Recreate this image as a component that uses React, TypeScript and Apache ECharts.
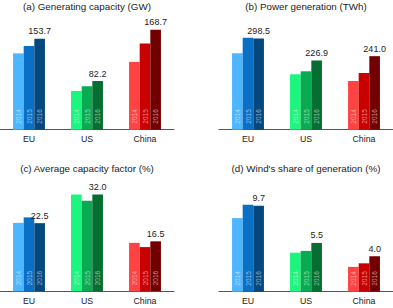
import React, { useEffect, useRef } from "react";
import * as echarts from "echarts";

const regions = ["EU", "US", "China"];
const years = ["2014", "2015", "2016"];
const titles = [
  "(a) Generating capacity (GW)",
  "(b) Power generation (TWh)",
  "(c) Average capacity factor (%)",
  "(d) Wind's share of generation (%)",
];
// values[region][year]
const capacity = [
  [129.0, 141.5, 153.7],
  [65.5, 73.4, 82.2],
  [114.5, 145.8, 168.7],
];
const generation = [
  [250.5, 301.0, 298.5],
  [181.6, 191.4, 226.9],
  [159.6, 185.8, 241.0],
];
const capFactor = [
  [22.6, 24.4, 22.5],
  [32.0, 29.9, 32.0],
  [16.0, 14.6, 16.5],
];
const windShare = [
  [8.3, 9.8, 9.7],
  [4.4, 4.6, 5.5],
  [2.8, 3.2, 4.0],
];
const panels = [capacity, generation, capFactor, windShare];
const axisMax = [200, 350, 35, 12];

const colors = [
  ["#4db6ff", "#0a70c6", "#05487e"],
  ["#1cf57e", "#0aaa52", "#066e31"],
  ["#ff4242", "#c90000", "#730000"],
];

export default function App() {
  const ref = useRef<HTMLDivElement>(null);
  useEffect(() => {
    document.body.style.margin = "0";
    const chart = echarts.init(ref.current!, null, { renderer: "svg" });
    const grids = [
      { left: 0, width: 174, top: 11.3, height: 118.4 },
      { left: 219, width: 174, top: 22.9, height: 106.8 },
      { left: 0, width: 174, top: 185.3, height: 106 },
      { left: 219, width: 174, top: 185.3, height: 106.4 },
    ];
    const titlePos = [
      [87, 6],
      [306, 6],
      [87, 168.5],
      [306, 168.7],
    ];
    const series: any[] = [];
    panels.forEach((vals, p) => {
      years.forEach((yr, yi) => {
        const s: any = {
          type: "bar",
          xAxisIndex: p,
          yAxisIndex: p,
          barGap: "0%",
          barCategoryGap: "45%",
          data: regions.map((r, ri) => ({
            value: vals[ri][yi],
            itemStyle: { color: colors[ri][yi] },
          })),
          label: {
            show: true,
            position: "insideBottom",
            rotate: 90,
            align: "left",
            verticalAlign: "middle",
            distance: 6,
            formatter: yr,
            fontSize: 6.5,
            fontFamily: "Liberation Sans, Arial, sans-serif",
            color: "rgba(255,255,255,0.55)",
          },
        };
        if (yi === 2) {
          s.markPoint = {
            symbol: "circle",
            symbolSize: 0,
            label: {
              show: true,
              position: "top",
              distance: 3,
              fontSize: 9,
              fontFamily: "Liberation Sans, Arial, sans-serif",
              color: "#222",
              formatter: (d: any) => Number(d.value).toFixed(1),
            },
            data: regions.map((r, ri) => ({
              coord: [r, vals[ri][2]],
              value: vals[ri][2],
            })),
          };
        }
        series.push(s);
      });
    });
    chart.setOption({
      animation: false,
      grid: grids,
      xAxis: grids.map((g, i) => ({
        type: "category",
        gridIndex: i,
        data: regions,
        axisLine: { show: true, lineStyle: { color: "#555", width: 1 } },
        axisTick: { show: false },
        axisLabel: {
          margin: 5,
          fontSize: 8.8,
          fontFamily: "Liberation Sans, Arial, sans-serif",
          color: "#222",
        },
      })),
      yAxis: grids.map((g, i) => ({
        type: "value",
        gridIndex: i,
        min: 0,
        max: axisMax[i],
        show: false,
        splitLine: { show: false },
      })),
      graphic: titles.map((t, i) => ({
        type: "text",
        x: titlePos[i][0],
        y: titlePos[i][1],
        style: {
          text: t,
          align: "center",
          verticalAlign: "middle",
          fontSize: 9.8,
          fontFamily: "Liberation Sans, Arial, sans-serif",
          fill: "#222",
        },
      })),
      series,
    });
    return () => chart.dispose();
  }, []);
  return <div ref={ref} style={{ width: 393, height: 308 }} />;
}
